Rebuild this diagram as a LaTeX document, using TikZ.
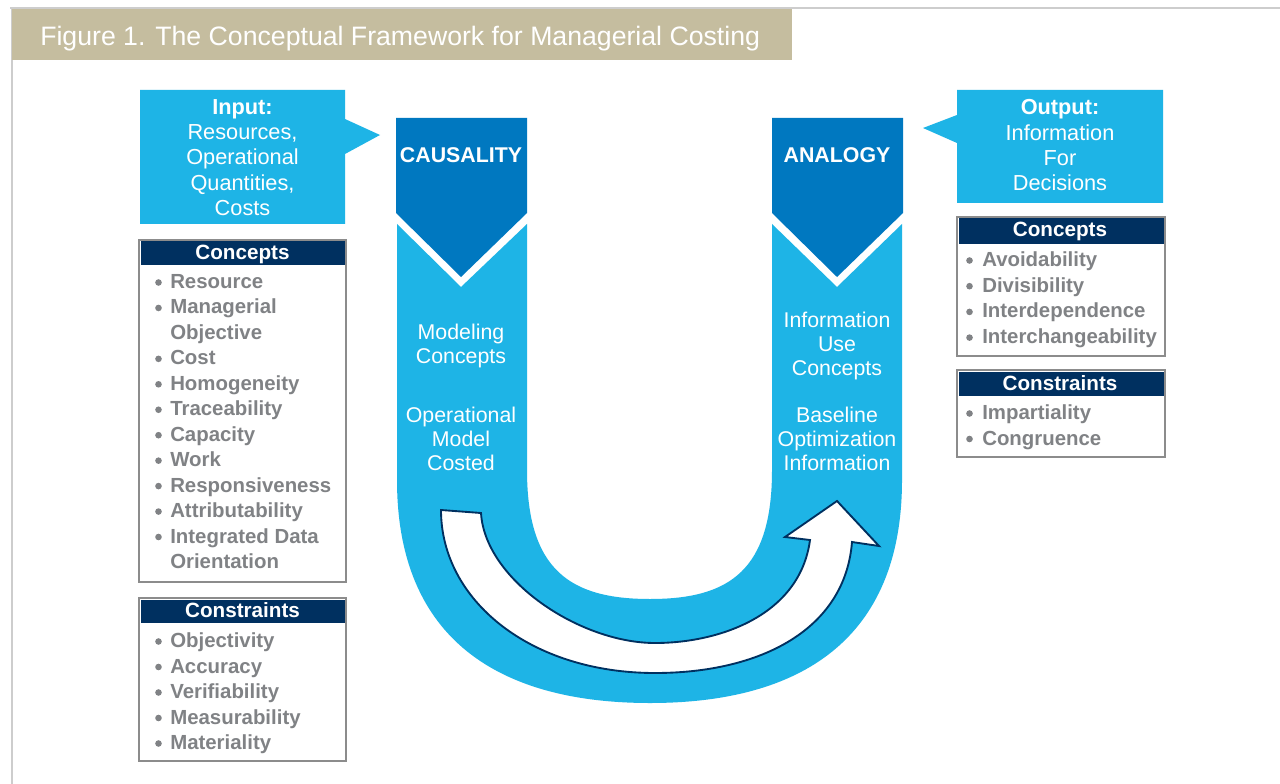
\documentclass[tikz,border=0pt]{standalone}
\usepackage{fontspec}
\setmainfont{Liberation Sans}
\definecolor{lblue}{RGB}{30,180,230}
\definecolor{dblue}{RGB}{0,120,192}
\definecolor{navy}{RGB}{0,48,96}
\definecolor{tgray}{RGB}{128,130,133}
\definecolor{tanband}{RGB}{197,189,159}
\definecolor{fgray}{RGB}{205,205,205}
\definecolor{bgray}{RGB}{140,140,140}
\begin{document}
\begin{tikzpicture}[x=0.75pt,y=-0.75pt,
  titletext/.style={font=\fontsize{20}{24}\selectfont, text=white, inner sep=0, anchor=base west},
  calltext/.style={font=\fontsize{16.3}{19}\selectfont, text=white, inner sep=0, align=center},
  armtext/.style={font=\fontsize{16}{18}\selectfont, text=white, inner sep=0, align=center},
  chevtext/.style={font=\bfseries\fontsize{16}{19}\selectfont, text=white, inner sep=0, anchor=base},
  hdrtext/.style={font=\bfseries\fontsize{15.5}{18}\selectfont, text=white, inner sep=0, anchor=base},
  itemtext/.style={font=\bfseries\fontsize{15.3}{18}\selectfont, text=tgray, inner sep=0, anchor=base west},
  listborder/.style={draw=bgray, line width=1.5pt, fill=white},
  bul/.style={fill=tgray},
]
\useasboundingbox (0,0) rectangle (1280,784);
\fill[white] (0,0) rectangle (1280,784);
% frame
\draw[fgray, line width=1.5pt] (10,8) -- (1280,8);
\draw[fgray, line width=1.5pt] (12,8) -- (12,784);
% title
\fill[tanband] (12,9) rectangle (792,60);
\node[titletext] (title) at (40,45.5) {Figure 1. The Conceptual Framework for Managerial Costing};

% input callout
\fill[lblue] (140,90) -- (345,90) -- (345,119) -- (380,135) -- (345,154) -- (345,224) -- (140,224) -- cycle;
\node[calltext] (input) at (242.5,157.5) {\textbf{Input:}\\Resources,\\Operational\\Quantities,\\Costs};

% output callout
\fill[lblue] (957,90) -- (1163,90) -- (1163,203) -- (957,203) -- (957,143) -- (923,128) -- (957,115) -- cycle;
\node[calltext] (output) at (1060,145.5) {\textbf{Output:}\\Information\\For\\Decisions};

% U shape
\fill[lblue] (527,224) -- (461,287) -- (397,224) -- (397,480)
  .. controls (397,640) and (500,703) .. (650,703)
  .. controls (800,703) and (902,640) .. (902,480)
  -- (902,224) -- (837,287) -- (772,224) -- (772,470)
  .. controls (772,570) and (730,599) .. (650,599)
  .. controls (570,599) and (527,570) .. (527,470) -- cycle;
% chevrons
\fill[dblue] (396,118) -- (527,118) -- (527,213) -- (461,277) -- (396,213) -- cycle;
\fill[dblue] (772,118) -- (903,118) -- (903,213) -- (837,277) -- (772,213) -- cycle;
\node[chevtext] (caus) at (461,162.5) {CAUSALITY};
\node[chevtext] (anal) at (837,162.5) {ANALOGY};

% arm texts
\node[armtext] (mod) at (461,346) {Modeling\\Concepts};
\node[armtext] (opm) at (461,439) {Operational\\Model\\Costed};
\node[armtext] (info) at (837,346) {Information\\Use\\Concepts};
\node[armtext] (base) at (837,439) {Baseline\\Optimization\\Information};

% curved arrow
\filldraw[fill=white, draw=navy, line width=1.4pt, line join=miter]
  (441,510) -- (481,513)
  .. controls (485,580) and (580,643) .. (655,643)
  .. controls (720,643) and (800,615) .. (810,540)
  -- (785,537) -- (837,501) -- (879,546) -- (852,542)
  .. controls (845,630) and (760,673) .. (655,673)
  .. controls (530,673) and (441,600) .. (441,510) -- cycle;

% left concepts
\draw[listborder] (139,240) rectangle (346,582);
\fill[navy] (140.5,241.5) rectangle (344.5,265);
\node[hdrtext] (lch) at (242.5,259) {Concepts};
\foreach \t/\b [count=\i] in {Resource/1,Managerial/1,Objective/0,Cost/1,Homogeneity/1,Traceability/1,Capacity/1,Work/1,Responsiveness/1,Attributability/1,Integrated Data/1,Orientation/0}{
  \node[itemtext] (lc\i) at (170,{288.5+25.45*(\i-1)}) {\t};
  \ifnum\b=1 \fill[bul] (158.5,{282.5+25.45*(\i-1)}) circle (3.3); \fi
}
% left constraints
\draw[listborder] (139,598) rectangle (346,761);
\fill[navy] (140.5,599.5) rectangle (344.5,623);
\node[hdrtext] (lkh) at (242.5,617) {Constraints};
\foreach \t [count=\i] in {Objectivity,Accuracy,Verifiability,Measurability,Materiality}{
  \node[itemtext] (lk\i) at (170,{647.5+25.5*(\i-1)}) {\t};
  \fill[bul] (158.5,{641.5+25.5*(\i-1)}) circle (3.3);
}
% right concepts
\draw[listborder] (957,217) rectangle (1165,356);
\fill[navy] (958.5,218.5) rectangle (1163.5,244);
\node[hdrtext] (rch) at (1060,237) {Concepts};
\foreach \t [count=\i] in {Avoidability,Divisibility,Interdependence,Interchangeability}{
  \node[itemtext] (rc\i) at (982,{266.5+25.7*(\i-1)}) {\t};
  \fill[bul] (969.5,{260.5+25.7*(\i-1)}) circle (3.3);
}
% right constraints
\draw[listborder] (957,370) rectangle (1165,457);
\fill[navy] (958.5,371.5) rectangle (1163.5,396);
\node[hdrtext] (rkh) at (1060,390) {Constraints};
\foreach \t [count=\i] in {Impartiality,Congruence}{
  \node[itemtext] (rk\i) at (982,{419.5+25.5*(\i-1)}) {\t};
  \fill[bul] (969.5,{413.5+25.5*(\i-1)}) circle (3.3);
}
\end{tikzpicture}
\end{document}
